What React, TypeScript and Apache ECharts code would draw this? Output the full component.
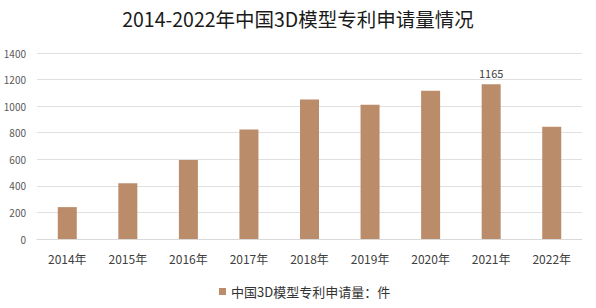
import React, { useEffect, useRef } from "react";
import * as echarts from "echarts";

const title = "2014-2022年中国3D模型专利申请量情况";
const categories = ["2014年", "2015年", "2016年", "2017年", "2018年", "2019年", "2020年", "2021年", "2022年"];
const values = [240, 420, 595, 825, 1050, 1010, 1115, 1165, 845];
const seriesName = "中国3D模型专利申请量：件";
const labeledIndex = 7;

export default function App() {
  const ref = useRef<HTMLDivElement>(null);
  useEffect(() => {
    const chart = echarts.init(ref.current!, null, { renderer: "svg" });
    const font = "'Microsoft YaHei', 'Noto Sans CJK SC', sans-serif";
    chart.setOption({
      animation: false,
      backgroundColor: "#ffffff",
      title: {
        text: title,
        left: "center",
        top: 4,
        textStyle: { fontSize: 19.5, fontWeight: "normal", color: "#1a1a1a", fontFamily: font },
      },
      grid: { left: 37, right: 14, top: 53, bottom: 69 },
      legend: {
        bottom: 5,
        left: 214,
        itemWidth: 7,
        itemHeight: 7,
        itemGap: 4,
        icon: "rect",
        textStyle: { fontSize: 13, color: "#333", fontFamily: font },
        data: [seriesName],
      },
      xAxis: {
        type: "category",
        data: categories,
        axisLine: { lineStyle: { color: "#d9d9d9" } },
        axisTick: { show: false },
        axisLabel: { fontSize: 12, color: "#404040", margin: 13, fontFamily: font },
      },
      yAxis: {
        type: "value",
        min: 0,
        max: 1400,
        interval: 200,
        axisLine: { show: false },
        axisTick: { show: false },
        axisLabel: {
          fontSize: 10,
          color: "#595959",
          margin: 11,
          fontFamily: font,
          formatter: (v: number) => String(v),
        },
        splitLine: { lineStyle: { color: "#e0e0e0" } },
      },
      series: [
        {
          name: seriesName,
          type: "bar",
          barWidth: 19,
          itemStyle: { color: "#BA8C6A" },
          data: values.map((v, i) =>
            i === labeledIndex
              ? { value: v, label: { show: true, position: "top", fontSize: 11, color: "#404040", distance: 6, fontFamily: font } }
              : v
          ),
        },
      ],
    });
    return () => chart.dispose();
  }, []);
  return <div ref={ref} style={{ width: 596, height: 308, position: "absolute", left: 0, top: 0 }} />;
}
